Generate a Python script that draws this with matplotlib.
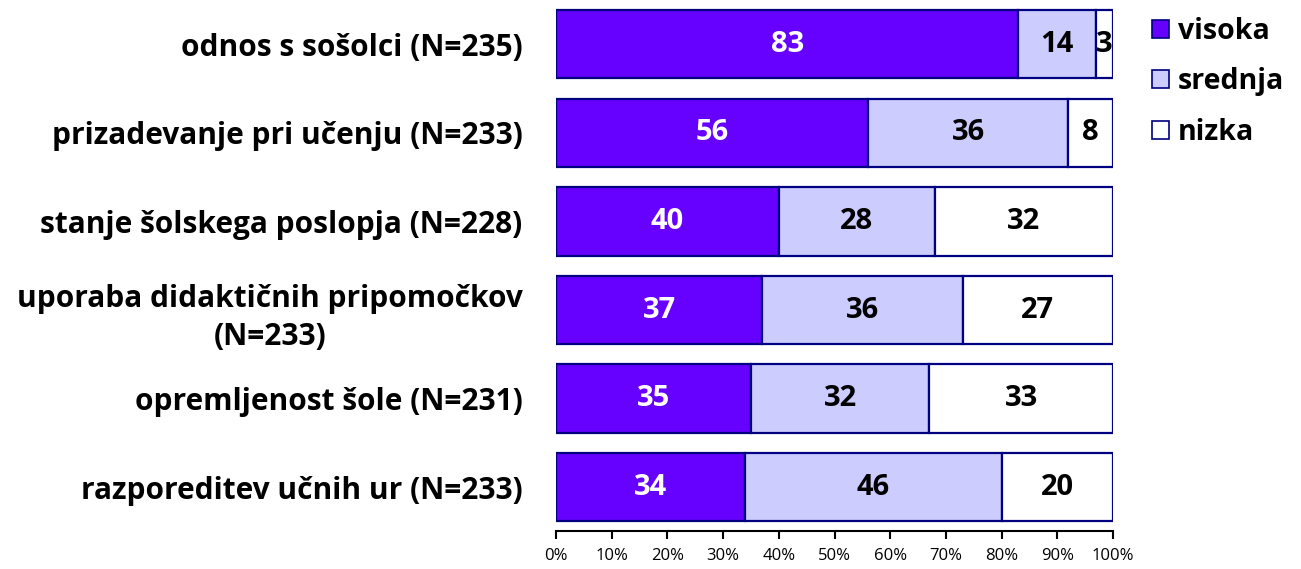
import matplotlib
matplotlib.use("Agg")
import matplotlib.pyplot as plt
from matplotlib.patches import Patch
import matplotlib.ticker as ticker

categories = [
    "odnos s sošolci (N=235)",
    "prizadevanje pri učenju (N=233)",
    "stanje šolskega poslopja (N=228)",
    "uporaba didaktičnih pripomočkov\n(N=233)",
    "opremljenost šole (N=231)",
    "razporeditev učnih ur (N=233)",
]
visoka = [83, 56, 40, 37, 35, 34]
srednja = [14, 36, 28, 36, 32, 46]
nizka = [3, 8, 32, 27, 33, 20]
series_names = ["visoka", "srednja", "nizka"]

colors = ["#6600FF", "#CCCCFF", "#FFFFFF"]
text_colors = ["white", "black", "black"]
edge = "#000080"

plt.rcParams["font.family"] = ["Open Sans", "DejaVu Sans"]

fig = plt.figure(figsize=(13.01, 5.69), dpi=100)
ax = fig.add_axes([0.4274, 0.066, 0.4281, 0.934])

ypos = list(range(len(categories)))
left = [0] * len(categories)
for vals, col, tcol, name in zip([visoka, srednja, nizka], colors, text_colors, series_names):
    ax.barh(ypos, vals, left=left, height=0.77, color=col, edgecolor=edge,
            linewidth=1.6, label=name)
    for y, v, l in zip(ypos, vals, left):
        ax.text(l + v / 2, y, f"{v}", ha="center", va="center", color=tcol,
                fontsize=21, fontweight="bold")
    left = [a + b for a, b in zip(left, vals)]

ax.set_xlim(0, 100)
ax.set_ylim(len(categories) - 0.5, -0.5)
ax.set_yticks(ypos)
ax.set_yticklabels(categories, fontsize=21.5, fontweight="bold", ha="right")
ax.tick_params(axis="y", length=0, pad=24)
for lbl in ax.get_yticklabels():
    lbl.set_multialignment("center")
    lbl.set_linespacing(1.35)
ax.set_xticks(range(0, 101, 10))
ax.xaxis.set_major_formatter(ticker.FuncFormatter(lambda v, _: f"{int(v)}%"))
ax.tick_params(axis="x", labelsize=12, length=6, width=1.5, direction="out", pad=6)
for s in ["top", "right", "left"]:
    ax.spines[s].set_visible(False)
ax.spines["bottom"].set_linewidth(1.5)

handles = [Patch(facecolor=c, edgecolor=edge, linewidth=1.2) for c in colors]
fig.legend(handles, series_names, loc="upper left", bbox_to_anchor=(0.866, 1.015),
           frameon=False, prop={"size": 20.5, "weight": "bold"},
           handlelength=0.6, handleheight=0.6, handletextpad=0.3, labelspacing=0.75)

fig.savefig("out.png", dpi=100)
